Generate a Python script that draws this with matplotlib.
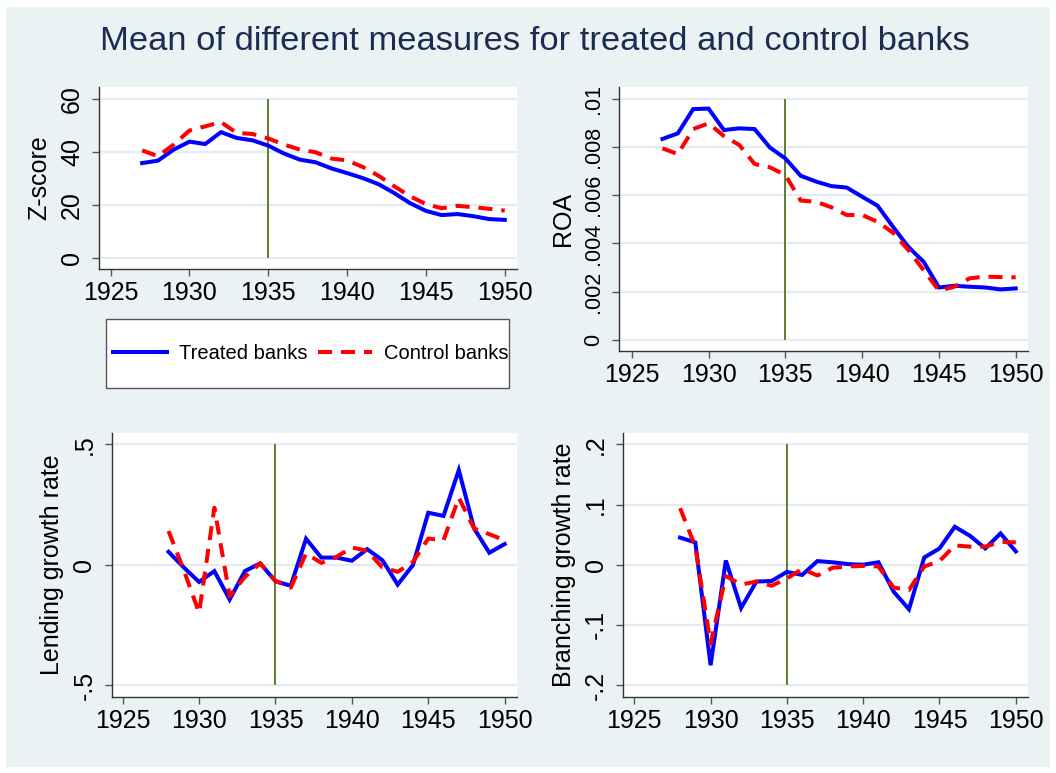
import matplotlib
matplotlib.use("Agg")
import matplotlib.pyplot as plt
from matplotlib.patches import Rectangle
from matplotlib.lines import Line2D

plt.rcParams['font.family'] = ['Liberation Sans', 'DejaVu Sans']

# ---------------- data ----------------
years_a = list(range(1927, 1951))
years_b = list(range(1928, 1951))

z_treated = [35.8, 36.7, 40.9, 43.9, 43.0, 47.5, 45.3, 44.4, 42.4, 39.4, 37.1, 36.1,
             33.8, 32.0, 30.1, 27.8, 24.4, 20.6, 17.7, 16.1, 16.5, 15.7, 14.6, 14.3]
z_control = [40.6, 38.4, 42.8, 48.1, 49.7, 51.3, 47.2, 46.8, 45.1, 42.8, 40.9, 39.9,
             37.5, 36.8, 34.3, 31.0, 27.0, 23.2, 20.3, 18.7, 19.6, 19.1, 18.5, 17.8]

roa_treated = [0.00834, 0.00857, 0.00958, 0.00960, 0.00871, 0.00878, 0.00875, 0.00798,
               0.00753, 0.00681, 0.00657, 0.00638, 0.00632, 0.00594, 0.00557, 0.00470,
               0.00386, 0.00324, 0.00217, 0.00224, 0.00220, 0.00217, 0.00209, 0.00213]
roa_control = [0.00795, 0.00771, 0.00875, 0.00899, 0.00846, 0.00809, 0.00730, 0.00716,
               0.00684, 0.00578, 0.00573, 0.00550, 0.00518, 0.00518, 0.00490, 0.00445,
               0.00373, 0.00289, 0.00204, 0.00220, 0.00255, 0.00262, 0.00260, 0.00259]

lend_treated = [0.054, -0.011, -0.071, -0.026, -0.144, -0.026, 0.006, -0.068, -0.087,
                0.108, 0.030, 0.030, 0.017, 0.065, 0.019, -0.082, -0.001, 0.216, 0.203,
                0.393, 0.151, 0.050, 0.086]
lend_control = [0.140, -0.022, -0.199, 0.237, -0.130, -0.050, 0.006, -0.066, -0.095,
                0.047, 0.008, 0.033, 0.072, 0.058, -0.011, -0.029, 0.012, 0.109, 0.102,
                0.278, 0.151, 0.127, 0.102]

branch_treated = [0.045, 0.037, -0.167, 0.007, -0.072, -0.028, -0.027, -0.012, -0.017,
                  0.006, 0.004, 0.001, 0.000, 0.004, -0.045, -0.074, 0.012, 0.027, 0.063,
                  0.048, 0.027, 0.052, 0.022]
branch_control = [0.094, 0.030, -0.131, -0.019, -0.033, -0.028, -0.035, -0.023, -0.007,
                  -0.018, -0.005, -0.003, -0.002, -0.003, -0.038, -0.042, -0.003, 0.006,
                  0.032, 0.030, 0.030, 0.038, 0.037]

x_ticks = [1925, 1930, 1935, 1940, 1945, 1950]
treat_year = 1935

z_ticks = [0, 20, 40, 60]
z_labels = ['0', '20', '40', '60']
roa_ticks = [0, 0.002, 0.004, 0.006, 0.008, 0.01]
roa_labels = ['0', '.002', '.004', '.006', '.008', '.01']
lend_ticks = [-0.5, 0, 0.5]
lend_labels = ['-.5', '0', '.5']
branch_ticks = [-0.2, -0.1, 0, 0.1, 0.2]
branch_labels = ['-.2', '-.1', '0', '.1', '.2']

title = "Mean of different measures for treated and control banks"

# ---------------- style ----------------
W, H = 1056, 773
BG = '#EAF2F3'
GRID = '#E3ECEF'
BLUE = '#0000FF'
RED = '#FF0000'
VLINE = '#5F7D2E'
AXC = '#333333'
FS = 18

fig = plt.figure(figsize=(W / 100, H / 100), dpi=100, facecolor='white')
fig.patches.append(Rectangle((6 / W, 6 / H), 1 - 12 / W, 1 - 13 / H, transform=fig.transFigure,
                             facecolor=BG, edgecolor='none', zorder=-10))


def px_axes(left, top, right, bottom):
    return fig.add_axes([left / W, 1 - bottom / H, (right - left) / W, (bottom - top) / H])


def style(ax, xt, yt, ylab, ylim, xlim, ylabel, yfs=FS):
    ax.set_facecolor('white')
    for s in ['top', 'right']:
        ax.spines[s].set_visible(False)
    for s in ['left', 'bottom']:
        ax.spines[s].set_color(AXC)
        ax.spines[s].set_linewidth(1.0)
    ax.set_xlim(*xlim)
    ax.set_ylim(*ylim)
    ax.set_xticks(xt)
    ax.set_xticklabels([str(v) for v in xt])
    ax.set_yticks(yt)
    ax.set_yticklabels(ylab, rotation=90, va='center')
    ax.tick_params(axis='both', direction='out', length=5, width=1.0, color='#555555',
                   labelsize=FS, labelcolor='black')
    ax.tick_params(axis='y', pad=6, labelsize=yfs)
    ax.tick_params(axis='x', pad=4)
    ax.yaxis.grid(True, color=GRID, linewidth=1.6)
    ax.xaxis.grid(False)
    ax.set_axisbelow(True)
    ax.set_ylabel(ylabel, fontsize=FS, labelpad=6)


def draw(ax, yrs, tr, co, ylo, yhi):
    ax.vlines(treat_year, ylo, yhi, color=VLINE, linewidth=1.4, zorder=2)
    ax.plot(yrs, tr, color=BLUE, linewidth=2.9, solid_joinstyle='miter', zorder=3)
    ax.plot(yrs, co, color=RED, linewidth=2.9, linestyle=(0, (3.5, 2.2)), zorder=4)


ax1 = px_axes(99.3, 86.7, 516.7, 269)
style(ax1, x_ticks, z_ticks, z_labels, (-4.3, 64.7), (1924.28, 1950.76), 'Z-score')
draw(ax1, years_a, z_treated, z_control, 0, 60)

ax2 = px_axes(619.3, 86.7, 1027.7, 350.7)
style(ax2, x_ticks, roa_ticks, roa_labels, (-0.000457, 0.01051), (1924.19, 1950.78), 'ROA',
      yfs=15.5)
draw(ax2, years_a, roa_treated, roa_control, 0, 0.01)

ax3 = px_axes(111.7, 432.7, 516.7, 696.7)
style(ax3, x_ticks, lend_ticks, lend_labels, (-0.547, 0.548), (1924.28, 1950.79),
      'Lending growth rate')
draw(ax3, years_b, lend_treated, lend_control, -0.5, 0.5)

ax4 = px_axes(623.3, 432.7, 1027.7, 696.7)
style(ax4, x_ticks, branch_ticks, branch_labels, (-0.2193, 0.2193), (1924.28, 1950.78),
      'Branching growth rate')
draw(ax4, years_b, branch_treated, branch_control, -0.2, 0.2)

# title
fig.text(535 / W, 1 - 42 / H, title, ha='center', va='center', fontsize=24.8, color='#1C2B52')

# legend box
bx0, by0, bx1, by1 = 106, 319.3, 509.3, 388.3
fig.patches.append(Rectangle((bx0 / W, 1 - by1 / H), (bx1 - bx0) / W, (by1 - by0) / H,
                             transform=fig.transFigure, facecolor='white',
                             edgecolor='#555555', linewidth=1.0, zorder=1))
handles = [Line2D([], [], color=BLUE, linewidth=2.9),
           Line2D([], [], color=RED, linewidth=2.9, linestyle=(0, (3.5, 2.2)))]
fig.legend(handles, ['Treated banks', 'Control banks'], ncol=2, frameon=False,
           loc='center', bbox_to_anchor=((bx0 + bx1) / 2 / W + 0.003, 1 - (by0 + by1) / 2 / H),
           bbox_transform=fig.transFigure, fontsize=14.5, handlelength=2.7,
           handletextpad=0.6, columnspacing=0.5)

fig.savefig('out.png', dpi=100, facecolor='white')
